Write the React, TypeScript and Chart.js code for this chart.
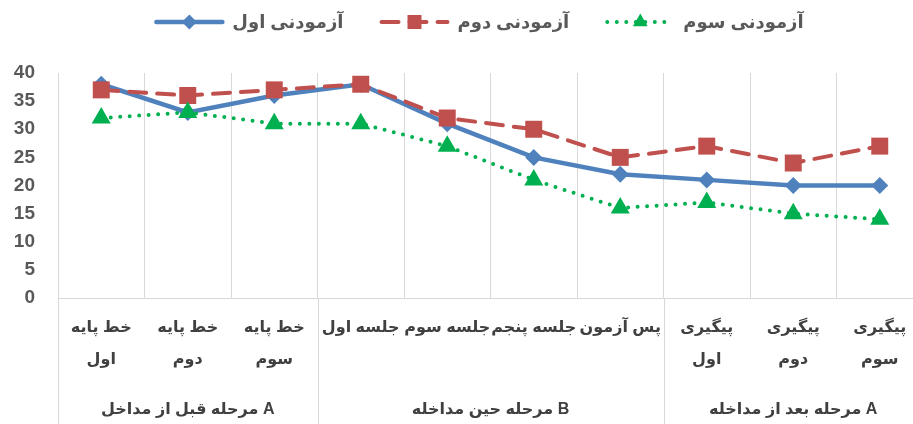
import React, { useEffect, useRef } from "react";
import { Chart, registerables } from "chart.js";

Chart.register(...registerables);

const categories: (string | string[])[] = [
  ["خط پایه", "اول"],
  ["خط پایه", "دوم"],
  ["خط پایه", "سوم"],
  "جلسه اول",
  "جلسه سوم",
  "جلسه پنجم",
  "پس آزمون",
  ["پیگیری", "اول"],
  ["پیگیری", "دوم"],
  ["پیگیری", "سوم"],
];
const groupLabels = ["مرحله قبل از مداخل A", "مرحله حین مداخله B", "مرحله بعد از مداخله A"];
const groupSizes = [3, 4, 3];
const seriesNames = ["آزمودنی اول", "آزمودنی دوم", "آزمودنی سوم"];
const subject1 = [38, 33, 36, 38, 31, 25, 22, 21, 20, 20];
const subject2 = [37, 36, 37, 38, 32, 30, 25, 27, 24, 27];
const subject3 = [32, 33, 31, 31, 27, 21, 16, 17, 15, 14];
const yMin = 0;
const yMax = 40;
const yStep = 5;

const FONT = "'Liberation Sans', 'DejaVu Sans', sans-serif";
const BLUE = "#4f81bd";
const RED = "#c0504d";
const GREEN = "#00b050";
const GRID = "#d9d9d9";

type Style = { color: string; dash: number[]; width: number; marker: string; cap: CanvasLineCap };
const styles: Style[] = [
  { color: BLUE, dash: [], width: 4.5, marker: "diamond", cap: "round" },
  { color: RED, dash: [17, 11], width: 4, marker: "square", cap: "round" },
  { color: GREEN, dash: [0, 9.5], width: 4, marker: "triangle", cap: "round" },
];

function drawMarker(ctx: CanvasRenderingContext2D, kind: string, x: number, y: number, color: string) {
  ctx.save();
  ctx.fillStyle = color;
  ctx.beginPath();
  if (kind === "diamond") {
    const r = 7.5;
    ctx.moveTo(x, y - r);
    ctx.lineTo(x + r, y);
    ctx.lineTo(x, y + r);
    ctx.lineTo(x - r, y);
  } else if (kind === "square") {
    const s = 7;
    ctx.rect(x - s, y - s, 2 * s, 2 * s);
  } else {
    const r = 8.5;
    ctx.moveTo(x, y - r);
    ctx.lineTo(x + r * 0.866, y + r * 0.5);
    ctx.lineTo(x - r * 0.866, y + r * 0.5);
  }
  ctx.closePath();
  ctx.fill();
  ctx.restore();
}

const legendPlugin = {
  id: "customLegend",
  afterDraw(chart: any) {
    const ctx: CanvasRenderingContext2D = chart.ctx;
    ctx.save();
    ctx.font = `bold 18px ${FONT}`;
    const sampleW = 70;
    const gapText = 8;
    const gapItem = 36;
    const widths = seriesNames.map((n) => ctx.measureText(n).width);
    const total = widths.reduce((a, w) => a + sampleW + gapText + w, 0) + gapItem * (seriesNames.length - 1);
    let x = 479 - total / 2;
    const y = 22;
    seriesNames.forEach((name, i) => {
      const st = styles[i];
      ctx.save();
      ctx.strokeStyle = st.color;
      ctx.lineWidth = st.width;
      ctx.lineCap = st.cap;
      ctx.setLineDash(st.dash);
      ctx.beginPath();
      ctx.moveTo(x + 2, y);
      ctx.lineTo(x + sampleW - 2, y);
      ctx.stroke();
      ctx.restore();
      drawMarker(ctx, st.marker, x + sampleW / 2, y, st.color);
      ctx.fillStyle = "#595959";
      ctx.textAlign = "left";
      ctx.textBaseline = "middle";
      ctx.fillText(name, x + sampleW + gapText, y + 1);
      x += sampleW + gapText + widths[i] + gapItem;
    });
    ctx.restore();
  },
};

const groupPlugin = {
  id: "groupAxis",
  afterDraw(chart: any) {
    const ctx: CanvasRenderingContext2D = chart.ctx;
    const xs = chart.scales.x;
    const axisY = chart.chartArea.bottom;
    const half = (xs.getPixelForValue(1) - xs.getPixelForValue(0)) / 2;
    ctx.save();
    ctx.strokeStyle = GRID;
    ctx.lineWidth = 1;
    ctx.font = `bold 16px ${FONT}`;
    ctx.fillStyle = "#404040";
    ctx.textAlign = "center";
    ctx.textBaseline = "middle";
    let start = 0;
    groupSizes.forEach((size, gi) => {
      const left = xs.getPixelForValue(start) - half;
      const right = xs.getPixelForValue(start + size - 1) + half;
      const lx = Math.round(left) + 0.5;
      ctx.beginPath();
      ctx.moveTo(lx, axisY);
      ctx.lineTo(lx, chart.height);
      ctx.stroke();
      if (gi === groupSizes.length - 1) {
        const rx = Math.round(right) + 0.5;
        ctx.beginPath();
        ctx.moveTo(rx, axisY);
        ctx.lineTo(rx, chart.height);
        ctx.stroke();
      }
      ctx.fillText(groupLabels[gi], (left + right) / 2, 410);
      start += size;
    });
    ctx.restore();
  },
};

export default function App() {
  const ref = useRef<HTMLCanvasElement | null>(null);
  useEffect(() => {
    if (!ref.current) return;
    const mk = (label: string, data: number[], i: number) => {
      const st = styles[i];
      return {
        label,
        data,
        order: 3 - i,
        borderColor: st.color,
        backgroundColor: st.color,
        borderWidth: st.width,
        borderDash: st.dash,
        borderCapStyle: st.cap,
        pointStyle: st.marker === "diamond" ? "rectRot" : st.marker === "square" ? "rect" : "triangle",
        pointRadius: st.marker === "diamond" ? 8.5 : st.marker === "square" ? 12 : 11,
        pointBorderWidth: 0,
        pointBackgroundColor: st.color,
        pointBorderColor: st.color,
        tension: 0,
        fill: false,
      };
    };
    const chart = new Chart(ref.current, {
      type: "line",
      data: {
        labels: categories as any,
        datasets: [
          mk(seriesNames[0], subject1, 0),
          mk(seriesNames[1], subject2, 1),
          mk(seriesNames[2], subject3, 2),
        ] as any,
      },
      options: {
        animation: false,
        responsive: true,
        maintainAspectRatio: false,
        layout: { padding: { top: 73, bottom: 34, left: 0, right: 10 } },
        plugins: {
          legend: { display: false },
          tooltip: { enabled: false },
        },
        scales: {
          x: {
            type: "category",
            offset: true,
            grid: { display: true, offset: true, color: GRID, lineWidth: 1, drawTicks: false },
            border: { display: true, color: GRID, width: 1 },
            ticks: {
              autoSkip: false,
              maxRotation: 0,
              minRotation: 0,
              padding: 14,
              color: "#404040",
              font: { family: FONT, size: 16, weight: "bold", lineHeight: 32 / 16 },
            },
          },
          y: {
            min: yMin,
            max: yMax,
            grid: { display: false, drawTicks: false },
            border: { display: false },
            afterFit: (scale: any) => {
              scale.width = 58;
            },
            ticks: {
              stepSize: yStep,
              padding: 23,
              color: "#595959",
              font: { family: FONT, size: 19, weight: "bold" },
            },
          },
        },
      } as any,
      plugins: [legendPlugin, groupPlugin],
    });
    return () => chart.destroy();
  }, []);
  return (
    <div style={{ position: "fixed", left: 0, top: 0, width: 913, height: 424, overflow: "hidden", background: "#fff" }}>
      <div style={{ position: "relative", width: 935, height: 424 }}>
        <canvas ref={ref} />
      </div>
    </div>
  );
}
